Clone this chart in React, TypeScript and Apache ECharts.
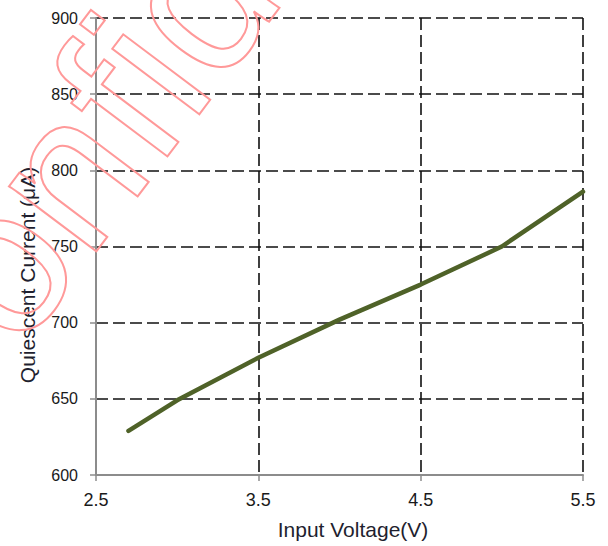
import React, { useEffect, useRef } from "react";
import * as echarts from "echarts";

const voltages = [2.7, 3.0, 3.5, 4.0, 4.5, 5.0, 5.5];
const currents = [629, 649, 677, 702, 725, 750, 786];
const xAxisTitle = "Input Voltage(V)";
const yAxisTitle = "Quiescent Current (μA)";
const watermark = "Confidential";

const FONT = '"Liberation Sans", Arial, sans-serif';

export default function App() {
  const ref = useRef<HTMLDivElement>(null);
  useEffect(() => {
    if (!ref.current) return;
    const chart = echarts.init(ref.current, null, { renderer: "svg" });
    const dash = { color: "#111", width: 1.6, type: [12, 5] as any };
    chart.setOption({
      animation: false,
      backgroundColor: "#fff",
      grid: { left: 96, right: 25, top: 18, bottom: 71, containLabel: false },
      xAxis: {
        type: "value",
        min: 2.5,
        max: 5.5,
        interval: 1,
        axisLine: { show: true, lineStyle: { color: "#8c8c8c", width: 2 } },
        axisTick: { show: true, length: 6, lineStyle: { color: "#8c8c8c", width: 1.5 } },
        axisLabel: { margin: 16, fontSize: 18, color: "#1a1a1a", fontFamily: FONT, formatter: (v: number) => v.toFixed(1) },
        splitLine: { show: true, lineStyle: dash },
      },
      yAxis: {
        type: "value",
        min: 600,
        max: 900,
        interval: 50,
        axisLine: { show: true, lineStyle: { color: "#8c8c8c", width: 2 } },
        axisTick: { show: true, length: 6, lineStyle: { color: "#8c8c8c", width: 1.5 } },
        axisLabel: { margin: 18, fontSize: 16, color: "#1a1a1a", fontFamily: FONT },
        splitLine: { show: true, lineStyle: dash },
      },
      series: [
        {
          type: "line",
          data: voltages.map((v, i) => [v, currents[i]]),
          showSymbol: false,
          symbol: "none",
          lineStyle: { color: "#4F6228", width: 4.5, cap: "round" },
          z: 3,
        },
      ],
      graphic: [
        {
          type: "text",
          x: 353,
          y: 529,
          style: { text: xAxisTitle, font: `21px ${FONT}`, fill: "#1f1f2f", align: "center", verticalAlign: "middle", textAlign: "center", textVerticalAlign: "middle" },
        },
        {
          type: "text",
          x: 27,
          y: 275,
          rotation: Math.PI / 2,
          style: { text: yAxisTitle, font: `21px ${FONT}`, fill: "#1f1f2f", align: "center", verticalAlign: "middle", textAlign: "center", textVerticalAlign: "middle" },
        },
        {
          type: "text",
          x: -128,
          y: 430,
          rotation: (53 * Math.PI) / 180,
          z: 100,
          silent: true,
          style: { text: watermark, font: `206px ${FONT}`, fill: "none", stroke: "#FF9999", lineWidth: 2, align: "left", verticalAlign: "middle", textAlign: "left", textVerticalAlign: "middle" },
        },
      ],
    });
    return () => chart.dispose();
  }, []);
  return <div ref={ref} style={{ position: "fixed", left: 0, top: 0, width: 608, height: 546 }} />;
}
